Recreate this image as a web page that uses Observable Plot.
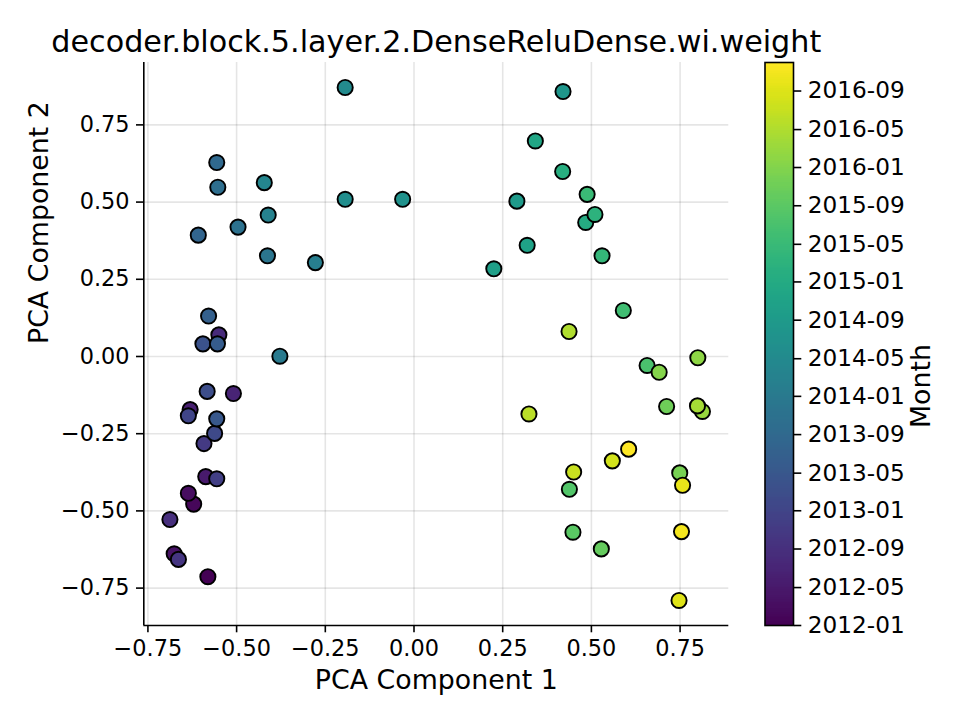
<!DOCTYPE html>
<html>
<head>
<meta charset="utf-8">
<script src="https://cdn.jsdelivr.net/npm/d3@7"></script>
<script src="https://cdn.jsdelivr.net/npm/@observablehq/plot@0.6"></script>
<style>
  html, body { margin: 0; padding: 0; background: white; }
  #wrap { position: relative; width: 960px; height: 720px; }
  #wrap svg { position: absolute; left: 0; top: 0; }
</style>
</head>
<body>
<div id="wrap"></div>
<script>
const title = "decoder.block.5.layer.2.DenseReluDense.wi.weight";
const xLabel = "PCA Component 1";
const yLabel = "PCA Component 2";
const colorLabel = "Month";

const months = [
  "2012-01","2012-02","2012-03","2012-04","2012-05","2012-06","2012-07","2012-08","2012-09","2012-10","2012-11","2012-12",
  "2013-01","2013-02","2013-03","2013-04","2013-05","2013-06","2013-07","2013-08","2013-09","2013-10","2013-11","2013-12",
  "2014-01","2014-02","2014-03","2014-04","2014-05","2014-06","2014-07","2014-08","2014-09","2014-10","2014-11","2014-12",
  "2015-01","2015-02","2015-03","2015-04","2015-05","2015-06","2015-07","2015-08","2015-09","2015-10","2015-11","2015-12",
  "2016-01","2016-02","2016-03","2016-04","2016-05","2016-06","2016-07","2016-08","2016-09","2016-10","2016-11","2016-12"
];
const pc1 = [
  -0.581,-0.621,-0.636,-0.676,-0.587,-0.631,-0.509,-0.550,-0.688,-0.664,-0.592,-0.556,
  -0.636,-0.562,-0.583,-0.595,-0.556,-0.554,-0.579,-0.608,-0.556,-0.553,-0.496,-0.413,
  -0.378,-0.278,-0.411,-0.422,-0.194,-0.194,-0.032, 0.420, 0.290, 0.225, 0.319, 0.342,
   0.484, 0.419, 0.510, 0.530, 0.488, 0.590, 0.657, 0.438, 0.448, 0.528, 0.712, 0.749,
   0.691, 0.800, 0.813, 0.799, 0.437, 0.324, 0.450, 0.559, 0.747, 0.757, 0.754, 0.605
];
const pc2 = [
  -0.713,-0.478,-0.443,-0.639,-0.389,-0.172,-0.120, 0.070,-0.528,-0.657,-0.282,-0.396,
  -0.192,-0.249,-0.113, 0.041,-0.202, 0.041, 0.131, 0.393, 0.628, 0.548, 0.419, 0.326,
   0.001, 0.304, 0.458, 0.563, 0.871, 0.509, 0.509, 0.858, 0.503, 0.284, 0.360, 0.698,
   0.434, 0.599, 0.460, 0.326, 0.525, 0.149,-0.029,-0.430,-0.569,-0.623,-0.162,-0.377,
  -0.051,-0.004,-0.178,-0.160, 0.081,-0.186,-0.374,-0.338,-0.790,-0.417,-0.567,-0.300
];
const xTicks = [-0.75, -0.5, -0.25, 0, 0.25, 0.5, 0.75];
const yTicks = [-0.75, -0.5, -0.25, 0, 0.25, 0.5, 0.75];
const colorTickLabels = [
  "2012-01","2012-05","2012-09","2013-01","2013-05","2013-09","2014-01","2014-05",
  "2014-09","2015-01","2015-05","2015-09","2016-01","2016-05","2016-09"
];

const parseMonth = d3.utcParse("%Y-%m");
const data = months.map((m, i) => ({date: parseMonth(m), x: pc1[i], y: pc2[i]}));
const t0 = data[0].date, t1 = data[data.length - 1].date;
const colorTicks = colorTickLabels.map(parseMonth);

const xDomain = [-0.7616, 0.8873];
const yDomain = [-0.8711, 0.952];
const font = "DejaVu Sans";
const lw = 1.6;

const colorOpts = {type: "linear", scheme: "viridis", domain: [t0, t1]};

const main = Plot.plot({
  width: 960, height: 720,
  marginLeft: 143.3, marginRight: 231.7, marginTop: 62, marginBottom: 95,
  style: {fontFamily: font, fontSize: "22px", color: "black", background: "white", overflow: "visible"},
  x: {domain: xDomain},
  y: {domain: yDomain},
  color: colorOpts,
  marks: [
    Plot.gridX(xTicks, {stroke: "#000", strokeOpacity: 0.1, strokeWidth: lw}),
    Plot.gridY(yTicks, {stroke: "#000", strokeOpacity: 0.1, strokeWidth: lw}),
    Plot.axisX(xTicks, {tickSize: 7.3, tickPadding: 7, tickFormat: d3.format(".2f"), label: null, fontSize: 22.4, strokeWidth: lw}),
    Plot.axisY(yTicks, {tickSize: 7.3, tickPadding: 7, tickFormat: d3.format(".2f"), label: null, fontSize: 22.4, strokeWidth: lw}),
    Plot.ruleX([xDomain[0]], {stroke: "black", strokeWidth: lw}),
    Plot.ruleY([yDomain[0]], {stroke: "black", strokeWidth: lw}),
    Plot.dot(data, {x: "x", y: "y", fill: "date", r: 7.6, stroke: "black", strokeWidth: 1.9}),
    Plot.text([title], {frameAnchor: "top", lineAnchor: "bottom", dy: -10.5, fontSize: 30.2, fill: "black"}),
    Plot.text([xLabel], {frameAnchor: "bottom", lineAnchor: "bottom", dy: 63, fontSize: 26.8, fill: "black"}),
    Plot.text([yLabel], {frameAnchor: "left", lineAnchor: "bottom", rotate: -90, dx: -96, fontSize: 26.8, fill: "black"})
  ]
});

const steps = 300;
const ramp = d3.range(steps).map(i => ({
  a: new Date(+t0 + (t1 - t0) * i / steps),
  b: new Date(+t0 + (t1 - t0) * (i + 1) / steps),
  m: new Date(+t0 + (t1 - t0) * (i + 0.5) / steps)
}));

const cbar = Plot.plot({
  width: 960, height: 720,
  marginLeft: 764.5, marginRight: 167, marginTop: 62, marginBottom: 95,
  style: {fontFamily: font, fontSize: "23px", color: "black", background: "transparent", overflow: "visible"},
  x: {domain: [0, 1], axis: null},
  y: {type: "utc", domain: [t0, t1]},
  color: colorOpts,
  marks: [
    Plot.rect(ramp, {x1: 0, x2: 1, y1: "a", y2: "b", fill: "m", shapeRendering: "crispEdges"}),
    Plot.frame({stroke: "black", strokeWidth: lw}),
    Plot.axisY(colorTicks, {anchor: "right", tickSize: 7.3, tickPadding: 7, tickFormat: d3.utcFormat("%Y-%m"), label: null, fontSize: 23.2, strokeWidth: lw}),
    Plot.text([colorLabel], {frameAnchor: "right", lineAnchor: "bottom", rotate: -90, dx: 136, fontSize: 26.8, fill: "black"})
  ]
});

const wrap = document.getElementById("wrap");
wrap.appendChild(main);
wrap.appendChild(cbar);
</script>
</body>
</html>
